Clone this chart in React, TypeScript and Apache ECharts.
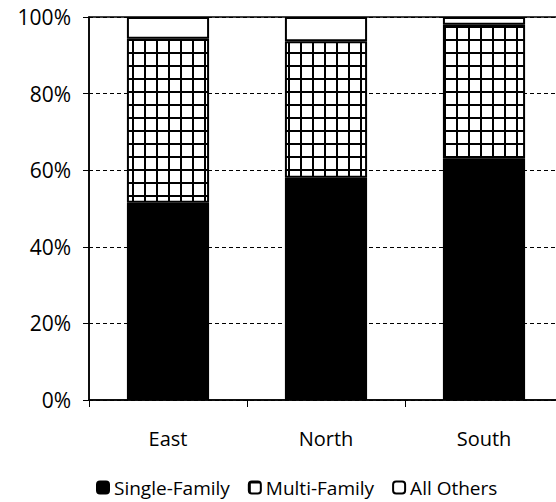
import React, { useEffect, useRef } from "react";
import * as echarts from "echarts";

const categories = ["East", "North", "South"];
const singleFamily = [51.5, 58, 63];
const multiFamily = [42.8, 35.7, 35];
const allOthers = [5.7, 6.3, 2];
const seriesNames = ["Single-Family", "Multi-Family", "All Others"];

function makeGridPattern() {
  const c = document.createElement("canvas");
  c.width = 12;
  c.height = 13;
  const ctx = c.getContext("2d")!;
  ctx.fillStyle = "#fff";
  ctx.fillRect(0, 0, 12, 13);
  ctx.fillStyle = "#000";
  ctx.fillRect(0, 0, 2, 13);
  ctx.fillRect(0, 0, 12, 2);
  return c;
}

export default function App() {
  const ref = useRef<HTMLDivElement>(null);
  useEffect(() => {
    const chart = echarts.init(ref.current!, null, { renderer: "svg" });
    const pattern = {
      image: makeGridPattern(),
      repeat: "repeat",
      imageWidth: 12,
      imageHeight: 13,
    };
    const font = "'Open Sans', sans-serif";
    chart.setOption({
      animation: false,
      backgroundColor: "#fff",
      textStyle: { fontFamily: font, color: "#000" },
      grid: {
        left: 89,
        top: 17,
        width: 474,
        height: 383,
        show: true,
        borderColor: "#000",
        borderWidth: 1.5,
        backgroundColor: "transparent",
        outerBoundsMode: "none",
        containLabel: false,
      },
      legend: {
        left: 91,
        top: 473,
        itemWidth: 12,
        itemHeight: 12,
        itemGap: 18,
        textStyle: { fontFamily: font, fontSize: 19, color: "#000" },
        data: seriesNames,
      },
      xAxis: {
        type: "category",
        data: categories,
        axisLine: { lineStyle: { color: "#000", width: 1.5 } },
        axisTick: { show: true, length: 7, lineStyle: { color: "#000" } },
        axisLabel: { fontFamily: font, fontSize: 20, color: "#000", margin: 28 },
      },
      yAxis: {
        type: "value",
        min: 0,
        max: 100,
        interval: 20,
        axisLine: { show: true, lineStyle: { color: "#000", width: 1.5 } },
        axisTick: { show: true, length: 6, lineStyle: { color: "#000" } },
        axisLabel: {
          formatter: "{value}%",
          fontFamily: font,
          fontSize: 21,
          color: "#000",
          margin: 18,
        },
        splitLine: {
          show: true,
          lineStyle: { color: "#000", type: [4, 3], width: 1 },
        },
      },
      series: [
        {
          name: seriesNames[0],
          type: "bar",
          stack: "total",
          data: singleFamily,
          barWidth: "52%",
          itemStyle: { color: "#000", borderColor: "#000", borderWidth: 1.5 },
        },
        {
          name: seriesNames[1],
          type: "bar",
          stack: "total",
          data: multiFamily,
          barWidth: "52%",
          itemStyle: { color: pattern, borderColor: "#000", borderWidth: 2 },
        },
        {
          name: seriesNames[2],
          type: "bar",
          stack: "total",
          data: allOthers,
          barWidth: "52%",
          itemStyle: { color: "#fff", borderColor: "#000", borderWidth: 2 },
        },
      ],
    });
    return () => chart.dispose();
  }, []);
  return (
    <div
      ref={ref}
      style={{ position: "absolute", left: 0, top: 0, width: 556, height: 502 }}
    />
  );
}
